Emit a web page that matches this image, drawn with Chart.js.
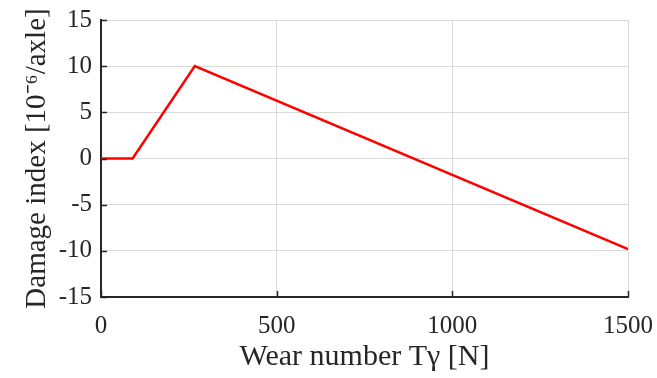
<!DOCTYPE html>
<html>
<head>
<meta charset="utf-8">
<script src="https://cdn.jsdelivr.net/npm/chart.js@4/dist/chart.umd.min.js"></script>
<style>
  html, body { margin: 0; padding: 0; background: #ffffff; }
  #wrap { width: 657px; height: 378px; position: relative; }
</style>
</head>
<body>
<div id="wrap"><canvas id="c"></canvas></div>
<script>
// Data
const wearNumber = [0, 90, 267, 1500];
const damageIndex = [0, 0, 10, -9.8];

const xTicks = [0, 500, 1000, 1500];
const yTicks = [-15, -10, -5, 0, 5, 10, 15];

const xTitle = 'Wear number T\u03B3 [N]';
const yTitle = 'Damage index [10\u207B\u2076/axle]';

const axisColor = '#262626';
const gridColor = '#d9d9d9';
const fontFamily = '"Liberation Serif", "Times New Roman", serif';

const points = wearNumber.map((x, i) => ({ x: x, y: damageIndex[i] }));

const innerTicks = {
  id: 'innerTicks',
  afterDatasetsDraw(chart) {
    const ctx = chart.ctx;
    const xs = chart.scales.x, ys = chart.scales.y;
    const area = chart.chartArea;
    ctx.save();
    ctx.strokeStyle = axisColor;
    ctx.lineWidth = 1.5;
    ctx.beginPath();
    xTicks.forEach(v => {
      const px = Math.round(xs.getPixelForValue(v)) + 0.5;
      ctx.moveTo(px, area.bottom);
      ctx.lineTo(px, area.bottom - 6);
    });
    yTicks.forEach(v => {
      const py = Math.round(ys.getPixelForValue(v)) + 0.5;
      ctx.moveTo(area.left, py);
      ctx.lineTo(area.left + 6, py);
    });
    ctx.stroke();
    ctx.restore();
  }
};

new Chart(document.getElementById('c'), {
  type: 'line',
  data: {
    datasets: [{
      data: points,
      borderColor: '#ff0000',
      borderWidth: 2.5,
      pointRadius: 0,
      tension: 0,
      fill: false
    }]
  },
  options: {
    responsive: true,
    maintainAspectRatio: false,
    animation: false,
    devicePixelRatio: 1,
    layout: { padding: { top: 20, right: 29, left: 0, bottom: 0 } },
    plugins: { legend: { display: false }, tooltip: { enabled: false } },
    scales: {
      x: {
        type: 'linear',
        min: 0, max: 1500,
        afterBuildTicks: s => { s.ticks = xTicks.map(v => ({ value: v })); },
        afterFit: s => { s.height = 81; s.paddingLeft = 0; s.paddingRight = 0; },
        grid: { color: gridColor, lineWidth: 1, drawTicks: false },
        border: { display: true, color: axisColor, width: 2 },
        ticks: { color: '#262626', padding: 14, maxRotation: 0, callback: v => String(v), font: { family: fontFamily, size: 25 } },
        title: { display: true, text: xTitle, color: '#262626', padding: { top: 0, bottom: 3 }, font: { family: fontFamily, size: 30 } }
      },
      y: {
        type: 'linear',
        min: -15, max: 15,
        afterBuildTicks: s => { s.ticks = yTicks.map(v => ({ value: v })); },
        afterFit: s => { s.width = 101; s.paddingTop = 0; s.paddingBottom = 0; },
        grid: { color: gridColor, lineWidth: 1, drawTicks: false },
        border: { display: true, color: axisColor, width: 2 },
        ticks: { color: '#262626', padding: 9, callback: v => String(v), font: { family: fontFamily, size: 25 } },
        title: { display: true, text: yTitle, color: '#262626', padding: { top: 20, bottom: 0 }, font: { family: fontFamily, size: 29 } }
      }
    }
  },
  plugins: [innerTicks]
});
</script>
</body>
</html>
